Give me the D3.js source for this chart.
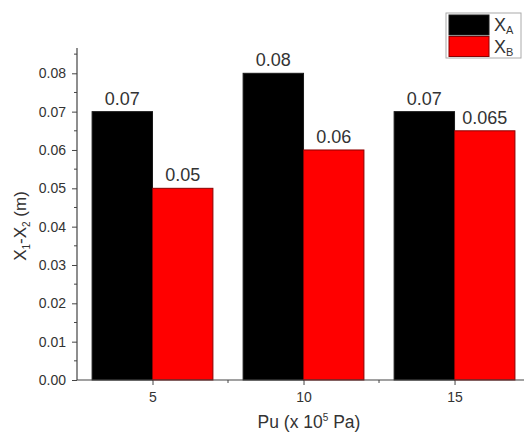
<!DOCTYPE html>
<html>
<head>
<meta charset="utf-8">
<script src="https://cdn.jsdelivr.net/npm/d3@7/dist/d3.min.js"></script>
<style>
  body { margin: 0; background: #fff; }
  svg { display: block; font-family: "Liberation Sans", Arial, sans-serif; }
</style>
</head>
<body>
<svg id="chart" width="526" height="436"></svg>
<script>
// Pressure groups (x 10^5 Pa) and the two displacement series
const pressures = [5, 10, 15];
const seriesA = [0.07, 0.08, 0.07];
const seriesB = [0.05, 0.06, 0.065];
const yTicks = [0, 0.01, 0.02, 0.03, 0.04, 0.05, 0.06, 0.07, 0.08];
const xTicks = [5, 10, 15];

const svg = d3.select("#chart");
const plot = { left: 77, right: 524, top: 48, bottom: 380 };
const textColor = "#333";

const x = d3.scaleLinear().domain([2.5, 17.3]).range([plot.left, plot.right]);
const y = d3.scaleLinear().domain([0, 0.0866]).range([plot.bottom, plot.top]);
const barW = 2; // bar width in x units

const groups = [
  { name: "A", values: seriesA, color: "#000", stroke: "#1a1a1a", offset: -barW },
  { name: "B", values: seriesB, color: "#f00", stroke: "#8b0000", offset: 0 }
];

// Bars
groups.forEach(g => {
  const data = pressures.map((p, i) => ({ p, v: g.values[i] }));
  svg.append("g").selectAll("rect")
    .data(data)
    .join("rect")
    .attr("x", d => x(d.p + g.offset))
    .attr("width", d => x(d.p + g.offset + barW) - x(d.p + g.offset))
    .attr("y", d => y(d.v))
    .attr("height", d => y(0) - y(d.v))
    .attr("fill", g.color)
    .attr("stroke", g.stroke)
    .attr("stroke-width", 1);

  // Value labels
  svg.append("g").selectAll("text")
    .data(data)
    .join("text")
    .attr("x", d => x(d.p + g.offset + barW / 2))
    .attr("y", d => y(d.v) - 7)
    .attr("text-anchor", "middle")
    .attr("font-size", 18)
    .attr("fill", textColor)
    .text(d => d.v);
});

// Y axis with minor ticks
const yAxis = d3.axisLeft(y).tickValues(yTicks).tickFormat(d3.format(".2f")).tickSize(5).tickPadding(6);
const yg = svg.append("g").attr("transform", `translate(${plot.left},0)`).call(yAxis);
const yMinor = d3.range(0.005, 0.086, 0.01);
yg.selectAll(".minor").data(yMinor).join("line")
  .attr("class", "minor")
  .attr("x1", -3).attr("x2", 0)
  .attr("y1", d => y(d)).attr("y2", d => y(d))
  .attr("stroke", "#444");

// X axis with minor ticks
const xAxis = d3.axisBottom(x).tickValues(xTicks).tickSize(5).tickPadding(7);
const xg = svg.append("g").attr("transform", `translate(0,${plot.bottom})`).call(xAxis);
xg.selectAll(".minor").data([7.5, 12.5]).join("line")
  .attr("class", "minor")
  .attr("y1", 0).attr("y2", 3)
  .attr("x1", d => x(d)).attr("x2", d => x(d))
  .attr("stroke", "#444");

[yg, xg].forEach(g => {
  g.select(".domain").attr("stroke", "#444").attr("stroke-width", 1.2);
  g.selectAll(".tick line").attr("stroke", "#444");
  g.selectAll(".tick text").attr("font-size", 14).attr("fill", textColor)
    .attr("font-family", "Liberation Sans, Arial, sans-serif");
});
// plain axis lines without end caps
yg.select(".domain").attr("d", `M0,${plot.bottom}V${plot.top}`);
xg.select(".domain").attr("d", `M${plot.left},0H${plot.right}`);

// Axis titles
const yt = svg.append("text")
  .attr("transform", "translate(26,226) rotate(-90)")
  .attr("text-anchor", "middle")
  .attr("font-size", 17)
  .attr("fill", textColor);
yt.append("tspan").text("X");
yt.append("tspan").attr("font-size", 10).attr("dy", 4).text("1");
yt.append("tspan").attr("dy", -4).text("-X");
yt.append("tspan").attr("font-size", 10).attr("dy", 4).text("2");
yt.append("tspan").attr("dy", -4).text(" (m)");

const xt = svg.append("text")
  .attr("x", 309)
  .attr("y", 428)
  .attr("text-anchor", "middle")
  .attr("font-size", 17.5)
  .attr("fill", textColor);
xt.append("tspan").text("Pu (x 10");
xt.append("tspan").attr("font-size", 10).attr("dy", -7).text("5");
xt.append("tspan").attr("dy", 7).text(" Pa)");

// Legend
const lg = svg.append("g").attr("transform", "translate(446,13)");
lg.append("rect").attr("width", 75).attr("height", 45)
  .attr("fill", "#fff").attr("stroke", "#aaa");
groups.forEach((g, i) => {
  lg.append("rect").attr("x", 3).attr("y", 2 + i * 21.5)
    .attr("width", 40).attr("height", 20)
    .attr("fill", g.color).attr("stroke", g.stroke);
  const t = lg.append("text").attr("x", 48).attr("y", 18 + i * 21.5)
    .attr("font-size", 18).attr("fill", textColor);
  t.append("tspan").text("X");
  t.append("tspan").attr("font-size", 11).attr("dy", 3).text(g.name);
});
</script>
</body>
</html>
